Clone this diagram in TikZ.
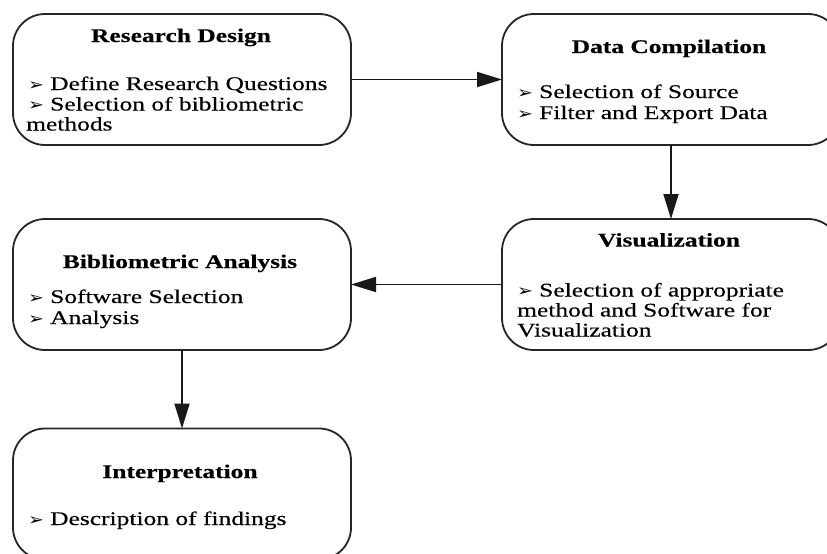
\documentclass[tikz,border=0pt]{standalone}
\usepackage{fontspec}
\setmainfont{Liberation Serif}[FakeStretch=1.32,FakeBold=0.35]
\newfontfamily\symfont{DejaVu Sans}
\usetikzlibrary{arrows.meta}
\newcommand{\bul}{\makebox[22pt][l]{\symfont\fontsize{16.5}{16.5}\selectfont\scalebox{1.15}[1]{➢}}}
\tikzset{
  stagebox/.style={draw=black!85, line width=1.8pt, rounded corners=32pt,
    minimum width=338pt, minimum height=131pt, inner sep=0pt, outer sep=0pt},
  titletext/.style={anchor=base, inner sep=0pt, font=\fontsize{19.3}{20.3}\selectfont\bfseries},
  itemtext/.style={anchor=base west, inner sep=0pt, font=\fontsize{19.3}{20.3}\selectfont},
  flow/.style={line width=1.8pt, draw=black!90, -{Triangle[length=25pt,width=15pt]}}
}
\begin{document}
\begin{tikzpicture}[x=1pt,y=-1pt]
\useasboundingbox[fill=white] (0,0) rectangle (827,554);
% boxes
\node[stagebox] (b1) at (182,79.5) {};
\node[stagebox] (b2) at (671,79.5) {};
\node[stagebox] (b3) at (671,284.5) {};
\node[stagebox] (b4) at (182,284.5) {};
\node[stagebox] (b5) at (182,494) {};
% box 1
\node[titletext] (t1) at (181,42) {Research Design};
\node[itemtext] (i1a) at (28,90) {\bul Define Research Questions};
\node[itemtext] (i1b) at (28,110.5) {\bul Selection of bibliometric};
\node[itemtext] (i1c) at (26,130.5) {methods};
% box 2
\node[titletext] (t2) at (669,53) {Data Compilation};
\node[itemtext] (i2a) at (517,98) {\bul Selection of Source};
\node[itemtext] (i2b) at (517,119) {\bul Filter and Export Data};
% box 3
\node[titletext] (t3) at (669,246.5) {Visualization};
\node[itemtext] (i3a) at (517,296.5) {\bul Selection of appropriate};
\node[itemtext] (i3b) at (517,316.5) {method and Software for};
\node[itemtext] (i3c) at (517,336.5) {Visualization};
% box 4
\node[titletext] (t4) at (180,268) {Bibliometric Analysis};
\node[itemtext] (i4a) at (28,303) {\bul Software Selection};
\node[itemtext] (i4b) at (28,324) {\bul Analysis};
% box 5
\node[titletext] (t5) at (180,478) {Interpretation};
\node[itemtext] (i5a) at (28,525) {\bul Description of findings};
% connectors
\draw[flow] (b1.east) -- (b2.west);
\draw[flow] (b2.south) -- (b3.north);
\draw[flow] (b3.west) -- (b4.east);
\draw[flow] (b4.south) -- (b5.north);
\end{tikzpicture}
\end{document}
